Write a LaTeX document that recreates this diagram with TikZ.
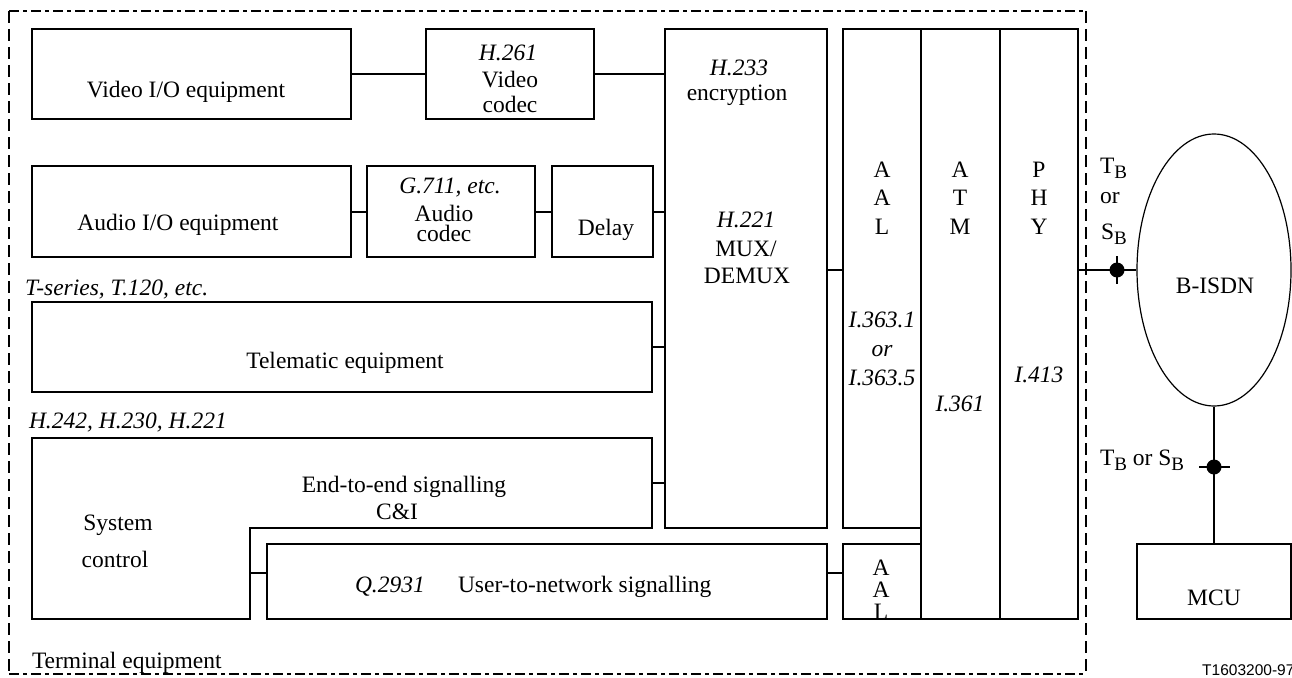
\documentclass[tikz,border=0pt]{standalone}
\usepackage{fontspec}
\setmainfont{Liberation Serif}
\newfontfamily\labelsans{Liberation Sans}
\usetikzlibrary{shapes.geometric}
\newcommand\subB{\raisebox{-5pt}{\fontsize{19}{19}\selectfont B}}
\begin{document}
\begin{tikzpicture}[x=1pt,y=-1pt,
  box/.style={draw, line width=1.2pt, inner sep=0pt, outer sep=0pt},
  conn/.style={line width=2pt},
  border/.style={line width=2pt},
  lbl/.style={inner sep=0pt, outer sep=0pt, font=\fontsize{23.5}{28}\selectfont, anchor=base},
  lblw/.style={lbl, anchor=base west}]
\useasboundingbox (0,0) rectangle (1292,677);
% terminal equipment border
\draw[border, dash pattern=on 10pt off 4pt on 4pt off 4pt] (9,11) -- (1086,11);
\draw[border, dash pattern=on 10pt off 4pt on 4pt off 4pt] (9,674) -- (1086,674);
\draw[border, dash pattern=on 12pt off 6pt] (9,11) -- (9,674);
\draw[border, dash pattern=on 12pt off 6pt] (1086,11) -- (1086,674);
% boxes
\node[box, minimum width=319pt, minimum height=90pt] (video) at (191.5,74) {};
\node[box, minimum width=168pt, minimum height=90pt] (h261) at (510,74) {};
\node[box, minimum width=162pt, minimum height=499pt] (mux) at (746,278.5) {};
\node[box, minimum width=319pt, minimum height=91pt] (audio) at (191.5,211.5) {};
\node[box, minimum width=168pt, minimum height=91pt] (g711) at (451,211.5) {};
\node[box, minimum width=101pt, minimum height=91pt] (delay) at (602.5,211.5) {};
\node[box, minimum width=620pt, minimum height=90pt] (telematic) at (342,347) {};
\draw[box] (32,438) -- (652,438) -- (652,528) -- (250,528) -- (250,619) -- (32,619) -- cycle;
\coordinate (scE) at (652,483);
\coordinate (scQ) at (250,573);
\node[box, minimum width=560pt, minimum height=75pt] (q2931) at (547,581.5) {};
\node[box, minimum width=78pt, minimum height=499pt] (aal) at (882,278.5) {};
\node[box, minimum width=78pt, minimum height=75pt] (aal2) at (882,581.5) {};
\node[box, minimum width=79pt, minimum height=590pt] (atm) at (960.5,324) {};
\node[box, minimum width=78pt, minimum height=590pt] (phy) at (1039,324) {};
\node[draw, ellipse, line width=1.2pt, inner sep=0pt, minimum width=154pt, minimum height=272pt] (bisdn) at (1214,270) {};
\node[box, minimum width=154pt, minimum height=75pt] (mcu) at (1214,581.5) {};
% connectors
\draw[conn] (video) -- (h261);
\draw[conn] (h261.east) -- (h261.east -| mux.west);
\draw[conn] (audio) -- (g711);
\draw[conn] (g711) -- (delay);
\draw[conn] (delay.east) -- (delay.east -| mux.west);
\draw[conn] (telematic.east) -- (telematic.east -| mux.west);
\draw[conn] (scE) -- (scE -| mux.west);
\draw[conn] (scQ) -- (scQ -| q2931.west);
\coordinate (mx) at (827,270);
\draw[conn] (mx -| mux.east) -- (mx -| aal.west);
\coordinate (qa) at (827,573);
\draw[conn] (qa -| q2931.east) -- (qa -| aal2.west);
\draw[conn] (bisdn.west -| phy.east) -- (bisdn.west);
\coordinate (tbdot) at (1117,270);
\fill (tbdot) circle (7.5pt);
\draw[conn] (tbdot) ++(0,-14) -- ++(0,28);
\draw[conn] (bisdn.south) -- (mcu.north);
\coordinate (sbdot) at (1214,467);
\fill (sbdot) circle (7.5pt);
\draw[conn] (sbdot) ++(-15,0) -- ++(31,0);
% texts
\node[lbl] (videot) at (186,97) {Video I/O equipment};
\node[lbl] (h261a) at (508,60) {\textit{H.261}};
\node[lbl] (h261b) at (510,87) {Video};
\node[lbl] (h261c) at (510,112) {codec};
\node[lbl] (h233a) at (739,75) {\textit{H.233}};
\node[lbl] (h233b) at (737,100) {encryption};
\node[lbl] (h221a) at (746,227) {\textit{H.221}};
\node[lbl] (h221b) at (746,256) {MUX/};
\node[lbl] (h221c) at (747,283) {DEMUX};
\node[lbl] (audiot) at (178,230) {Audio I/O equipment};
\node[lbl] (g711a) at (450,193) {\textit{G.711, etc.}};
\node[lbl] (g711b) at (444,221) {Audio};
\node[lbl] (g711c) at (444,241) {codec};
\node[lbl] (delayt) at (606,235) {Delay};
\node[lblw] (tser) at (25,295) {\textit{T-series, T.120, etc.}};
\node[lbl] (telet) at (345,368) {Telematic equipment};
\node[lblw] (hser) at (29,428) {\textit{H.242, H.230, H.221}};
\node[lbl] (e2ea) at (404,492) {End-to-end signalling};
\node[lbl] (e2eb) at (397,519) {C\&I};
\node[lbl] (sysa) at (118,530) {System};
\node[lbl] (sysb) at (115,567) {control};
\node[lblw] (q2931a) at (355,592) {\textit{Q.2931}};
\node[lblw] (q2931b) at (458,592) {User-to-network signalling};
\node[lbl] (aala) at (882,177) {A};
\node[lbl] (aalb) at (882,205) {A};
\node[lbl] (aalc) at (882,234) {L};
\node[lbl] (i3631) at (882,327) {\textit{I.363.1}};
\node[lbl] (i363or) at (882,356) {\textit{or}};
\node[lbl] (i3635) at (882,385) {\textit{I.363.5}};
\node[lbl] (atma) at (960,177) {A};
\node[lbl] (atmb) at (960,205) {T};
\node[lbl] (atmc) at (960,234) {M};
\node[lbl] (i361) at (960,411) {\textit{I.361}};
\node[lbl] (phya) at (1039,177) {P};
\node[lbl] (phyb) at (1039,205) {H};
\node[lbl] (phyc) at (1039,234) {Y};
\node[lbl] (i413) at (1039,382) {\textit{I.413}};
\node[lbl] (aal2a) at (881,575) {A};
\node[lbl] (aal2b) at (881,597) {A};
\node[lbl] (aal2c) at (881,619) {L};
\node[lblw] (tba) at (1100,173) {T\subB};
\node[lblw] (tbb) at (1100,203) {or};
\node[lblw] (tbc) at (1101,239) {S\subB};
\node[lblw] (tbsb) at (1100,465) {T\subB{} or S\subB};
\node[lbl] (bisdnt) at (1215,293) {B-ISDN};
\node[lbl] (mcut) at (1214,605) {MCU};
\node[lblw] (termt) at (32,668) {Terminal equipment};
\node[inner sep=0pt, anchor=base west, font=\labelsans\fontsize{15.5}{18}\selectfont] (code) at (1202,675) {T1603200-97};
\end{tikzpicture}
\end{document}
